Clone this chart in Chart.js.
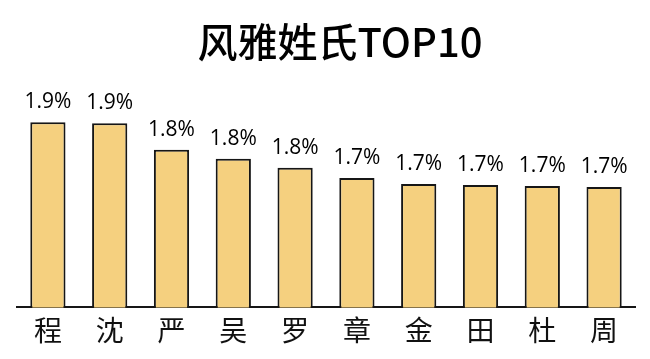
<!DOCTYPE html>
<html>
<head>
<meta charset="utf-8">
<script src="https://cdn.jsdelivr.net/npm/chart.js@4"></script>
<style>
    html, body { margin: 0; padding: 0; background: #fff; }
    #wrap { width: 650px; height: 359px; }
</style>
</head>
<body>
<div id="wrap"><canvas id="chart" width="650" height="359"></canvas></div>
<script>
const titleText = '风雅姓氏TOP10';
const surnames = ['程', '沈', '严', '吴', '罗', '章', '金', '田', '杜', '周'];
// share in percent (labels show one decimal)
const shares = [1.932, 1.928, 1.824, 1.788, 1.752, 1.712, 1.688, 1.684, 1.680, 1.676];

const CJK = '"Noto Sans CJK SC", "Noto Sans", sans-serif';
const LATIN = '"Open Sans", "Noto Sans", sans-serif';

// value labels above bars + title
const labelPlugin = {
    id: 'labels',
    afterDatasetsDraw(chart) {
        const ctx = chart.ctx;
        const meta = chart.getDatasetMeta(0);
        ctx.save();
        ctx.fillStyle = '#000';
        ctx.textAlign = 'center';
        ctx.textBaseline = 'alphabetic';
        ctx.font = '21px ' + LATIN;
        meta.data.forEach((bar, i) => {
            ctx.fillText(shares[i].toFixed(1) + '%', bar.x, bar.y - 14);
        });
        ctx.font = '500 40px ' + CJK;
        ctx.fillText(titleText, 340, 57);
        ctx.restore();
    }
};

new Chart(document.getElementById('chart'), {
    type: 'bar',
    data: {
        labels: surnames,
        datasets: [{
            data: shares,
            backgroundColor: '#F5D07F',
            borderColor: '#161616',
            borderWidth: 2,
            borderSkipped: 'bottom',
            barPercentage: 0.57,
            categoryPercentage: 1
        }]
    },
    options: {
        responsive: false,
        animation: false,
        layout: { padding: { left: 17, right: 15, top: 90, bottom: 6 } },
        plugins: {
            legend: { display: false },
            title: { display: false },
            tooltip: { enabled: false }
        },
        scales: {
            x: {
                grid: { display: false, drawTicks: false },
                border: { display: true, color: '#161616', width: 2 },
                ticks: {
                    color: '#111',
                    padding: 6,
                    font: { family: CJK, size: 28 }
                }
            },
            y: {
                display: false,
                min: 1.2,
                max: 2.06
            }
        }
    },
    plugins: [labelPlugin]
});
</script>
</body>
</html>
